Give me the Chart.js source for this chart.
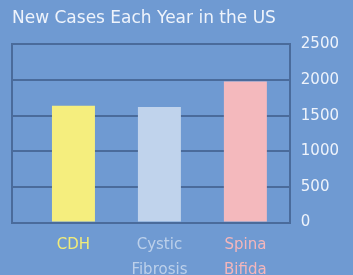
<!DOCTYPE html>
<html>
<head>
<meta charset="utf-8">
<script src="https://cdn.jsdelivr.net/npm/chart.js@4"></script>
<style>
  html, body { margin: 0; padding: 0; background: #6f9ad2; }
  #wrap { width: 353px; height: 275px; }
</style>
</head>
<body>
<div id="wrap"><canvas id="casesChart"></canvas></div>
<script>
// data
const categories = [['CDH'], ['Cystic', 'Fibrosis'], ['Spina', 'Bifida']];
const newCases = [1640, 1620, 1980];
const yMax = 2500;
const yStep = 500;

// colours per category
const barColors = ['#f5ee7e', '#c0d3ec', '#f4b9bd'];
const labelColors = ['#f2ec78', '#bcd0ea', '#f4b6bb'];

const gridColor = '#4a6b9b';
const textColor = '#eef3fb';
const font = "'DejaVu Sans', sans-serif";

const ctx = document.getElementById('casesChart').getContext('2d');
const casesChart = new Chart(ctx, {
    type: 'bar',
    data: {
        datasets: [{
            data: newCases.map((v, i) => ({ x: i, y: v })),
            backgroundColor: barColors,
            borderWidth: 0,
            barPercentage: 0.5,
            categoryPercentage: 1
        }]
    },
    options: {
        responsive: true,
        maintainAspectRatio: false,
        animation: false,
        layout: {
            padding: { left: 4, right: 3, top: 4, bottom: -9 }
        },
        scales: {
            x: {
                type: 'linear',
                offset: false,
                min: -0.715,
                max: 2.517,
                afterBuildTicks: scale => {
                    scale.ticks = categories.map((_, i) => ({ value: i }));
                },
                grid: { display: false },
                border: { display: true, color: gridColor, width: 2 },
                ticks: {
                    padding: 2,
                    maxRotation: 0,
                    autoSkip: false,
                    font: { family: font, size: 15, lineHeight: 1.65 },
                    color: c => labelColors[c.index],
                    callback: v => categories[v]
                }
            },
            y: {
                position: 'right',
                min: 0,
                max: yMax,
                ticks: {
                    stepSize: yStep,
                    padding: 11,
                    font: { family: font, size: 15 },
                    color: textColor,
                    callback: v => String(v)
                },
                grid: {
                    color: gridColor,
                    lineWidth: 2,
                    drawTicks: false
                },
                border: { display: true, color: gridColor, width: 2 }
            },
            yLeft: {
                position: 'left',
                min: 0,
                max: yMax,
                ticks: { display: false },
                grid: { display: false },
                border: { display: true, color: gridColor, width: 2 }
            }
        },
        plugins: {
            legend: { display: false },
            tooltip: { enabled: false },
            title: {
                display: true,
                fullSize: false,
                text: 'New Cases Each Year in the US',
                align: 'start',
                color: textColor,
                font: { family: font, size: 17, weight: 'normal' },
                padding: { top: 4, bottom: 16 }
            }
        }
    }
});
</script>
</body>
</html>
